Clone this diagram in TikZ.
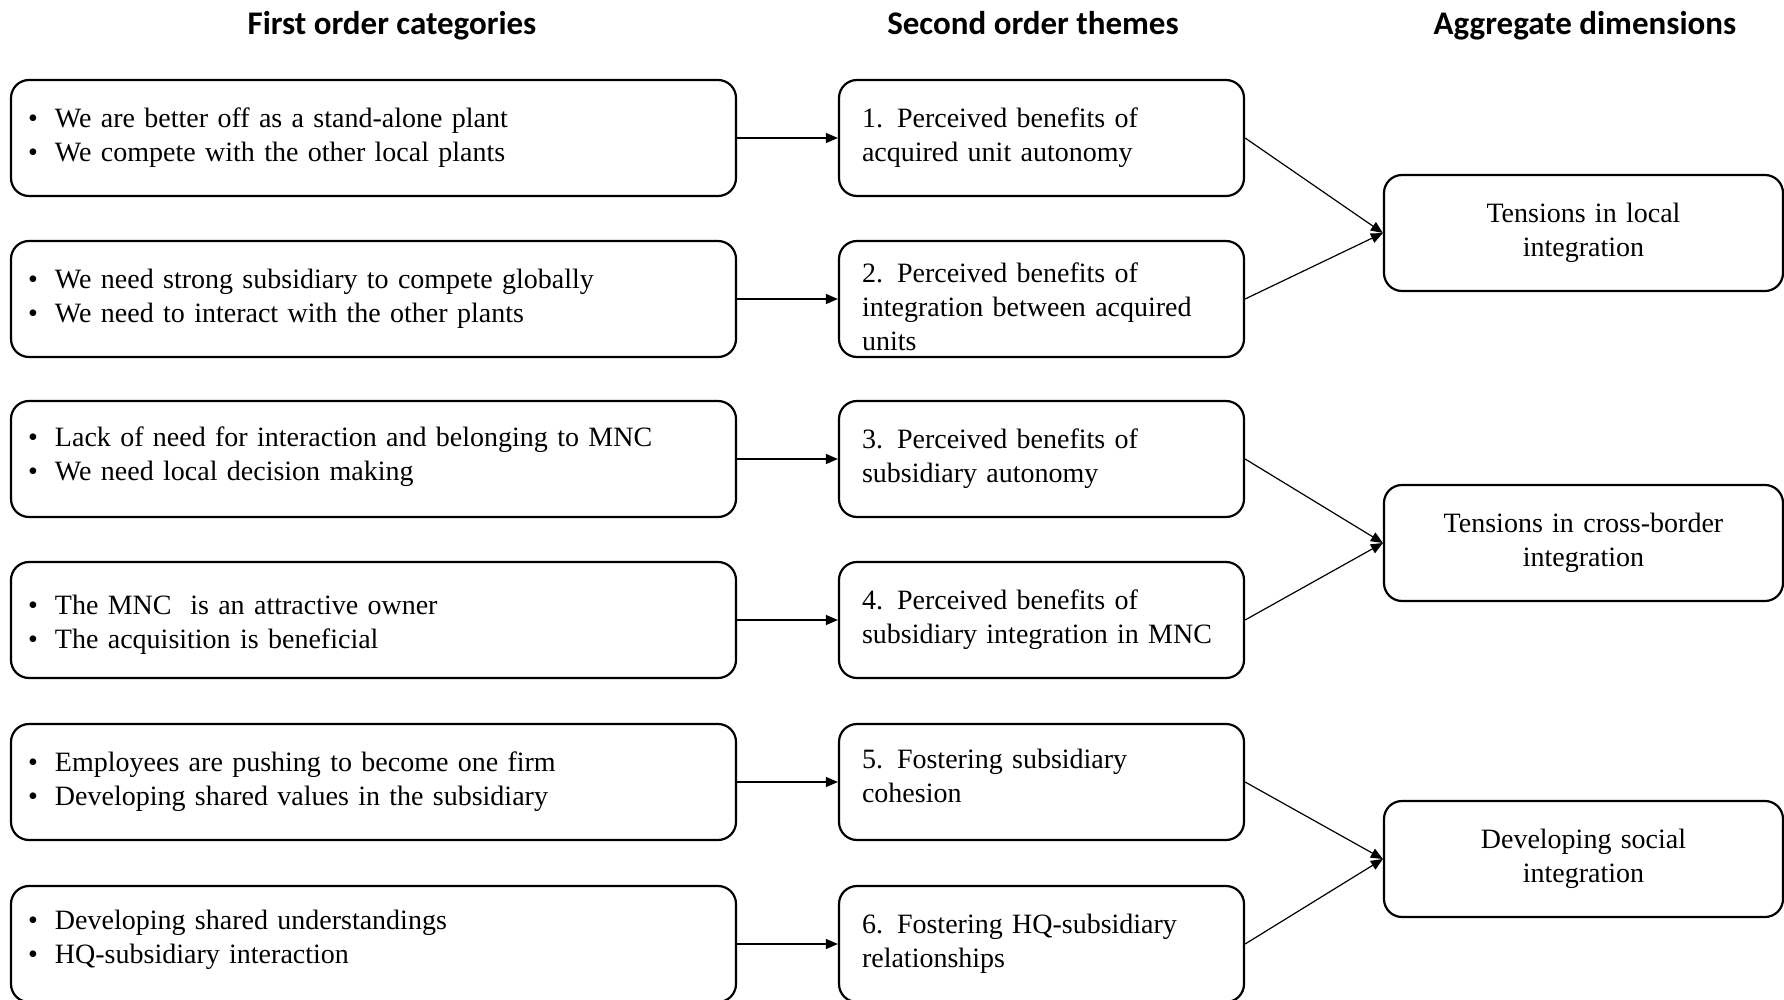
\documentclass[tikz,border=0pt]{standalone}
\usepackage{fontspec}
\setmainfont{Liberation Serif}
\newfontfamily\headfont{Carlito}
\usetikzlibrary{arrows.meta}
\newcommand\blt{\makebox[13.5pt][l]{\textbullet}}
\begin{document}
\begin{tikzpicture}[x=0.5pt,y=-0.5pt,
  box/.style={draw,line width=1.1pt,rounded corners=9pt,minimum height=58pt,
    font=\fontsize{14}{17}\selectfont},
  leftbox/.style={box,minimum width=362.5pt,text width=345.5pt,inner xsep=8.5pt,align=left},
  midbox/.style={box,minimum width=202.5pt,text width=179.5pt,inner xsep=11.5pt,align=left},
  aggbox/.style={box,minimum width=199.5pt,text width=180pt,align=center},
  head/.style={anchor=base,font=\headfont\bfseries\fontsize{16.5}{20}\selectfont},
  conn/.style={line width=0.6pt,-{Triangle[length=6pt,width=5pt]}}]
\useasboundingbox (0,0) rectangle (1784,1000);

% headings
\node[head] (h1) at (392,34.5) {First order categories};
\node[head] (h2) at (1033,34.5) {Second order themes};
\node[head] (h3) at (1585,34.5) {Aggregate dimensions};

% first order categories
\node[leftbox] (l1) at (373.5,138) {\blt We are better off as a stand-alone plant\\\blt We compete with the other local plants};
\node[leftbox] (l2) at (373.5,299) {\blt We need strong subsidiary to compete globally\\\blt We need to interact with the other plants};
\node[leftbox] (l3) at (373.5,459) {\blt Lack of need for interaction and belonging to MNC\\\blt We need local decision making\rule[-5pt]{0pt}{0pt}};
\node[leftbox] (l4) at (373.5,620) {\rule{0pt}{14.5pt}\blt The MNC\ \ is an attractive owner\\\blt The acquisition is beneficial};
\node[leftbox] (l5) at (373.5,782) {\blt Employees are pushing to become one firm\\\blt Developing shared values in the subsidiary};
\node[leftbox] (l6) at (373.5,944) {\blt Developing shared understandings\\\blt HQ-subsidiary interaction\rule[-7.6pt]{0pt}{0pt}};

% second order themes
\node[midbox] (m1) at (1041.5,138) {1. Perceived benefits of\\acquired unit autonomy};
\node[midbox,inner ysep=0pt] (m2) at (1041.5,299) {\rule{0pt}{17.5pt}2. Perceived benefits of\\integration between acquired\\units};
\node[midbox] (m3) at (1041.5,459) {3. Perceived benefits of\\subsidiary autonomy};
\node[midbox] (m4) at (1041.5,620) {4. Perceived benefits of\\subsidiary integration in MNC};
\node[midbox] (m5) at (1041.5,782) {5. Fostering subsidiary\\cohesion\rule[-6pt]{0pt}{0pt}};
\node[midbox] (m6) at (1041.5,944) {6. Fostering HQ-subsidiary\\relationships};

% aggregate dimensions
\node[aggbox] (a1) at (1583.5,233) {Tensions in local\\integration};
\node[aggbox] (a2) at (1583.5,543) {Tensions in cross-border\\integration};
\node[aggbox] (a3) at (1583.5,859) {Developing social\\integration};

% connectors
\foreach \i in {1,...,6} {\draw[conn] (l\i.east) -- (m\i.west);}
\draw[conn] (m1.east) -- (a1.west);
\draw[conn] (m2.east) -- (a1.west);
\draw[conn] (m3.east) -- (a2.west);
\draw[conn] (m4.east) -- (a2.west);
\draw[conn] (m5.east) -- (a3.west);
\draw[conn] (m6.east) -- (a3.west);
\end{tikzpicture}
\end{document}
